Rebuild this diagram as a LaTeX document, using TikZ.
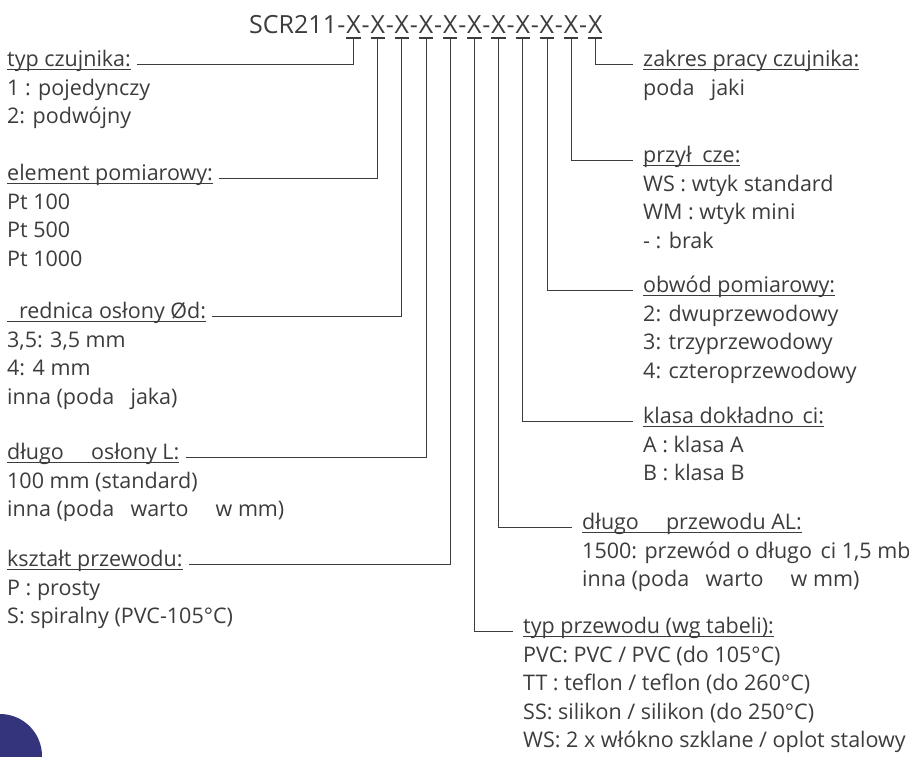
\documentclass[tikz,border=0pt]{standalone}
\usepackage{fontspec}
\setmainfont{Open Sans}
\usetikzlibrary{positioning}
\definecolor{ink}{RGB}{60,60,60}
\definecolor{navy}{RGB}{52,52,125}
% underline at a fixed depth, crossing the descenders
\newcommand\uln[2][-3.2pt]{\setbox0\hbox{#2}\rlap{\rule[#1]{\wd0}{1.2pt}}\box0}
\tikzset{
every node/.style={inner sep=0pt, text=ink, font=\fontsize{21.5}{26}\selectfont},
head/.style={anchor=base west},
nextline/.style={below=28.5pt of #1.base west, anchor=base west}, % next row of a list
title/.style={font=\fontsize{25}{30}\selectfont},
xmark/.style={inner xsep=0.45pt},
lead/.style={draw=ink, line width=0.8pt},
}

\begin{document}
\begin{tikzpicture}[x=1pt, y=-1pt]
\useasboundingbox (0,0) rectangle (909,756);
\fill[navy] (0,756) circle[radius=42pt];

% code line
\node[title, anchor=base west] (x0) at (249,33) {SCR211};
\foreach \i [remember=\i as \p (initially 0)] in {1,...,11}{
  \node[title, right=0pt of x\p.base east, anchor=base west] (d\i) {-};
  \node[title, xmark, right=0pt of d\i.base east, anchor=base west] (x\i) {\uln[-5.5pt]{X}};
}

% left column
\node[head] (typ) at (7,66.75) {\uln{typ czujnika:}};
\node[nextline=typ] (typ1) {1 : pojedynczy};
\node[nextline=typ1] (typ2) {2: podwójny};

\node[head] (elem) at (7,180.75) {\uln{element pomiarowy:}};
\node[nextline=elem] (elem1) {Pt 100};
\node[nextline=elem1] (elem2) {Pt 500};
\node[nextline=elem2] (elem3) {Pt 1000};

\node[head] (sred) at (7,318.75) {\uln{\hspace{.55em}rednica osłony Ød:}};
\node[nextline=sred] (sred1) {3,5: 3,5 mm};
\node[nextline=sred1] (sred2) {4: 4 mm};
\node[nextline=sred2] (sred3) {inna (poda\hspace{.5em} jaka)};

\node[head] (dlos) at (7,459.75) {\uln{długo\hspace{1em} osłony L:}};
\node[nextline=dlos] (dlos1) {100 mm (standard)};
\node[nextline=dlos1] (dlos2) {inna (poda\hspace{.5em} warto\hspace{1em} w mm)};

\node[head] (ksz) at (7,566.75) {\uln{kształt przewodu:}};
\node[nextline=ksz] (ksz1) {P : prosty};
\node[nextline=ksz1] (ksz2) {S: spiralny (PVC-105°C)};

% right column
\node[head] (zakres) at (643,66.75) {\uln{zakres pracy czujnika:}};
\node[nextline=zakres] (zakres1) {poda\hspace{.5em} jaki};

\node[head] (przyl) at (643,162.75) {\uln{przył\hspace{.5em}cze:}};
\node[nextline=przyl] (przyl1) {WS : wtyk standard};
\node[nextline=przyl1] (przyl2) {WM : wtyk mini};
\node[nextline=przyl2] (przyl3) {- : brak};

\node[head] (obw) at (643,292.75) {\uln{obwód pomiarowy:}};
\node[nextline=obw] (obw1) {2: dwuprzewodowy};
\node[nextline=obw1] (obw2) {3: trzyprzewodowy};
\node[nextline=obw2] (obw3) {4: czteroprzewodowy};

\node[head] (klasa) at (643,423.75) {\uln{klasa dokładno\hspace{.4em}ci:}};
\node[nextline=klasa] (klasa1) {A : klasa A};
\node[nextline=klasa1] (klasa2) {B : klasa B};

\node[head] (dlprz) at (582,529.75) {\uln{długo\hspace{1em} przewodu AL:}};
\node[nextline=dlprz] (dlprz1) {1500: przewód o długo\hspace{.4em}ci 1,5 mb};
\node[nextline=dlprz1] (dlprz2) {inna (poda\hspace{.5em} warto\hspace{1em} w mm)};

\node[head] (typp) at (523,633.75) {\uln{typ przewodu (wg tabeli):}};
\node[nextline=typp] (typp1) {PVC: PVC / PVC (do 105°C)};
\node[nextline=typp1] (typp2) {TT : teflon / teflon (do 260°C)};
\node[nextline=typp2] (typp3) {SS: silikon / silikon (do 250°C)};
\node[nextline=typp3] (typp4) {WS: 2 x włókno szklane / oplot stalowy};

% leaders
\foreach \i/\n in {1/typ, 2/elem, 3/sred, 4/dlos, 5/ksz}
  \draw[lead, shorten >=6pt] (x\i.south) |- (\n.mid east);
\foreach \i/\n in {6/typp, 7/dlprz, 8/klasa, 9/obw, 10/przyl, 11/zakres}
  \draw[lead, shorten >=10pt] (x\i.south) |- (\n.mid west);

\end{tikzpicture}
\end{document}
